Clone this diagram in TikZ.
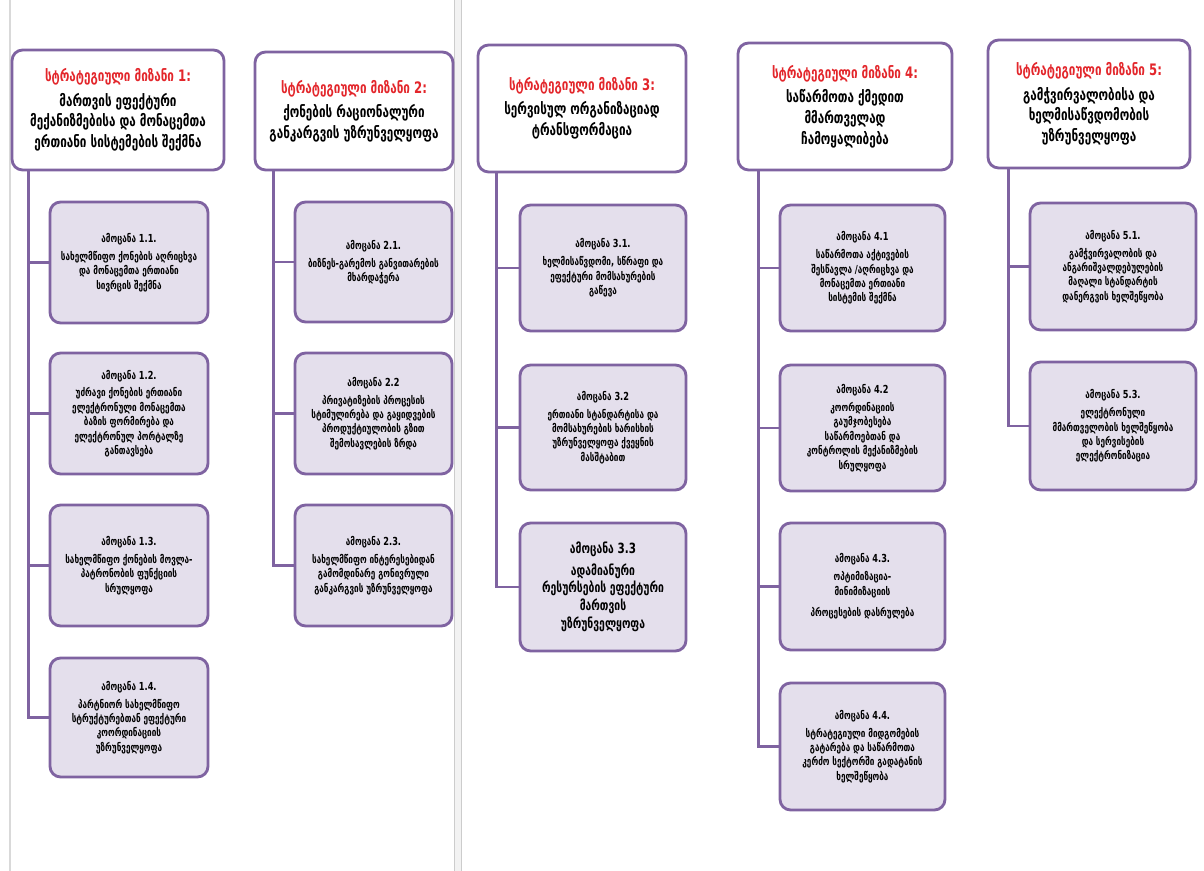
\documentclass[tikz,border=0pt]{standalone}
\usepackage{fontspec}
\setmainfont{DejaVu Sans}[FakeStretch=0.74]
\usepackage[rgb]{xcolor}
\usepackage{tikz}

\definecolor{goalred}{HTML}{E3262B}
\definecolor{boxpurple}{HTML}{7F63A1}
\definecolor{boxfill}{HTML}{E4DFEC}

\begin{document}
\begin{tikzpicture}[x=0.02cm, y=-0.02cm,
  goalbox/.style={draw=boxpurple, line width=1.6pt, fill=white,
    rounded corners=6pt, align=center, inner sep=2pt,
    font=\fontsize{9}{11.8}\selectfont\bfseries},
  taskbox/.style={draw=boxpurple, line width=1.6pt, fill=boxfill,
    rounded corners=6pt, align=center, inner sep=2pt,
    font=\fontsize{6.3}{8.2}\selectfont\bfseries},
  link/.style={draw=boxpurple, line width=1.4pt}]

\useasboundingbox (0,0) rectangle (1204,871);

% page edges of the screenshot
\draw[gray!30, line width=1pt] (10,0) -- (10,871);
\fill[gray!10] (454,0) rectangle (461,871);
\draw[gray!40] (454,0) -- (454,871);
\draw[gray!40] (461,0) -- (461,871);

%% strategic goals
\node[goalbox, minimum width=4.24cm, minimum height=2.4cm] (goal1) at (118,110)
 {\textcolor{goalred}{სტრატეგიული მიზანი 1:}\\[2pt]
  მართვის ეფექტური\\ მექანიზმებისა და მონაცემთა\\ ერთიანი სისტემების შექმნა};
\node[goalbox, minimum width=3.96cm, minimum height=2.36cm] (goal2) at (354,111)
 {\textcolor{goalred}{სტრატეგიული მიზანი 2:}\\[2pt]
  ქონების რაციონალური\\ განკარგვის უზრუნველყოფა};
\node[goalbox, minimum width=4.16cm, minimum height=2.54cm] (goal3) at (582,108.5)
 {\textcolor{goalred}{სტრატეგიული მიზანი 3:}\\[2pt]
  სერვისულ ორგანიზაციად\\ ტრანსფორმაცია};
\node[goalbox, minimum width=4.28cm, minimum height=2.54cm] (goal4) at (845,106.5)
 {\textcolor{goalred}{სტრატეგიული მიზანი 4:}\\[2pt]
  საწარმოთა ქმედით\\ მმართველად\\ ჩამოყალიბება};
\node[goalbox, minimum width=4.04cm, minimum height=2.56cm] (goal5) at (1089,104)
 {\textcolor{goalred}{სტრატეგიული მიზანი 5:}\\[2pt]
  გამჭვირვალობისა და\\ ხელმისაწვდომობის\\ უზრუნველყოფა};

%% tasks of goal 1
\node[taskbox, minimum width=3.16cm, minimum height=2.42cm] (task11) at (129,262.5)
 {ამოცანა 1.1.\\[2pt] სახელმწიფო ქონების აღრიცხვა\\ და მონაცემთა ერთიანი\\ სივრცის შექმნა};
\node[taskbox, minimum width=3.16cm, minimum height=2.42cm] (task12) at (129,413.5)
 {ამოცანა 1.2.\\[2pt] უძრავი ქონების ერთიანი\\ ელექტრონული მონაცემთა\\ ბაზის ფორმირება და\\ ელექტრონულ პორტალზე\\ განთავსება};
\node[taskbox, minimum width=3.16cm, minimum height=2.42cm] (task13) at (129,565.5)
 {ამოცანა 1.3.\\[2pt] სახელმწიფო ქონების მოვლა-\\ პატრონობის ფუნქციის\\ სრულყოფა};
\node[taskbox, minimum width=3.16cm, minimum height=2.38cm] (task14) at (129,717.5)
 {ამოცანა 1.4.\\[2pt] პარტნიორ სახელმწიფო\\ სტრუქტურებთან ეფექტური\\ კოორდინაციის\\ უზრუნველყოფა};

%% tasks of goal 2
\node[taskbox, minimum width=3.14cm, minimum height=2.4cm] (task21) at (373.5,262)
 {ამოცანა 2.1.\\[2pt] ბიზნეს-გარემოს განვითარების\\ მხარდაჭერა};
\node[taskbox, minimum width=3.14cm, minimum height=2.42cm] (task22) at (373.5,413.5)
 {ამოცანა 2.2\\[2pt] პრივატიზების პროცესის\\ სტიმულირება და გაყიდვების\\ პროდუქტიულობის გზით\\ შემოსავლების ზრდა};
\node[taskbox, minimum width=3.14cm, minimum height=2.42cm] (task23) at (373.5,565.5)
 {ამოცანა 2.3.\\[2pt] სახელმწიფო ინტერესებიდან\\ გამომდინარე გონივრული\\ განკარგვის უზრუნველყოფა};

%% tasks of goal 3
\node[taskbox, minimum width=3.32cm, minimum height=2.52cm] (task31) at (603,268)
 {ამოცანა 3.1.\\[2pt] ხელმისაწვდომი, სწრაფი და\\ ეფექტური მომსახურების\\ გაწევა};
\node[taskbox, minimum width=3.32cm, minimum height=2.5cm] (task32) at (603,427.5)
 {ამოცანა 3.2\\[2pt] ერთიანი სტანდარტისა და\\ მომსახურების ხარისხის\\ უზრუნველყოფა ქვეყნის\\ მასშტაბით};
\node[taskbox, minimum width=3.32cm, minimum height=2.56cm,
  font=\fontsize{8}{10.2}\selectfont\bfseries] (task33) at (603,587)
 {ამოცანა 3.3\\[2pt] ადამიანური\\ რესურსების ეფექტური\\ მართვის\\ უზრუნველყოფა};

%% tasks of goal 4
\node[taskbox, minimum width=3.3cm, minimum height=2.52cm] (task41) at (862.5,268)
 {ამოცანა 4.1\\[2pt] საწარმოთა აქტივების\\ შესწავლა /აღრიცხვა და\\ მონაცემთა ერთიანი\\ სისტემის შექმნა};
\node[taskbox, minimum width=3.3cm, minimum height=2.52cm] (task42) at (862.5,428)
 {ამოცანა 4.2\\[2pt] კოორდინაციის\\ გაუმჯობესება\\ საწარმოებთან და\\ კონტროლის მექანიზმების\\ სრულყოფა};
\node[taskbox, minimum width=3.3cm, minimum height=2.54cm] (task43) at (862.5,586.5)
 {ამოცანა 4.3.\\[2pt] ოპტიმიზაცია-\\ მინიმიზაციის\\[4pt] პროცესების დასრულება};
\node[taskbox, minimum width=3.3cm, minimum height=2.54cm] (task44) at (862.5,746.5)
 {ამოცანა 4.4.\\[2pt] სტრატეგიული მიდგომების\\ გატარება და საწარმოთა\\ კერძო სექტორში გადატანის\\ ხელშეწყობა};

%% tasks of goal 5
\node[taskbox, minimum width=3.32cm, minimum height=2.54cm] (task51) at (1113,266.5)
 {ამოცანა 5.1.\\[2pt] გამჭვირვალობის და\\ ანგარიშვალდებულების\\ მაღალი სტანდარტის\\ დანერგვის ხელშეწყობა};
\node[taskbox, minimum width=3.32cm, minimum height=2.56cm] (task53) at (1113,426)
 {ამოცანა 5.3.\\[2pt] ელექტრონული\\ მმართველობის ხელშეწყობა\\ და სერვისების\\ ელექტრონიზაცია};

%% trunks from each goal down to its tasks
\path (goal1.south west) ++(18,0) coordinate (trunk1);
\path (goal2.south west) ++(20,0) coordinate (trunk2);
\path (goal3.south west) ++(20,0) coordinate (trunk3);
\path (goal4.south west) ++(22,0) coordinate (trunk4);
\path (goal5.south west) ++(22,0) coordinate (trunk5);

\draw[link] (trunk1) |- (task14.west);
 \foreach \t in {task11,task12,task13}
   \draw[link] (trunk1 |- \t.west) -- (\t.west);
\draw[link] (trunk2) |- (task23.west);
 \foreach \t in {task21,task22}
   \draw[link] (trunk2 |- \t.west) -- (\t.west);
\draw[link] (trunk3) |- (task33.west);
 \foreach \t in {task31,task32}
   \draw[link] (trunk3 |- \t.west) -- (\t.west);
\draw[link] (trunk4) |- (task44.west);
 \foreach \t in {task41,task42,task43}
   \draw[link] (trunk4 |- \t.west) -- (\t.west);
\draw[link] (trunk5) |- (task53.west);
 \draw[link] (trunk5 |- task51.west) -- (task51.west);

\end{tikzpicture}
\end{document}
